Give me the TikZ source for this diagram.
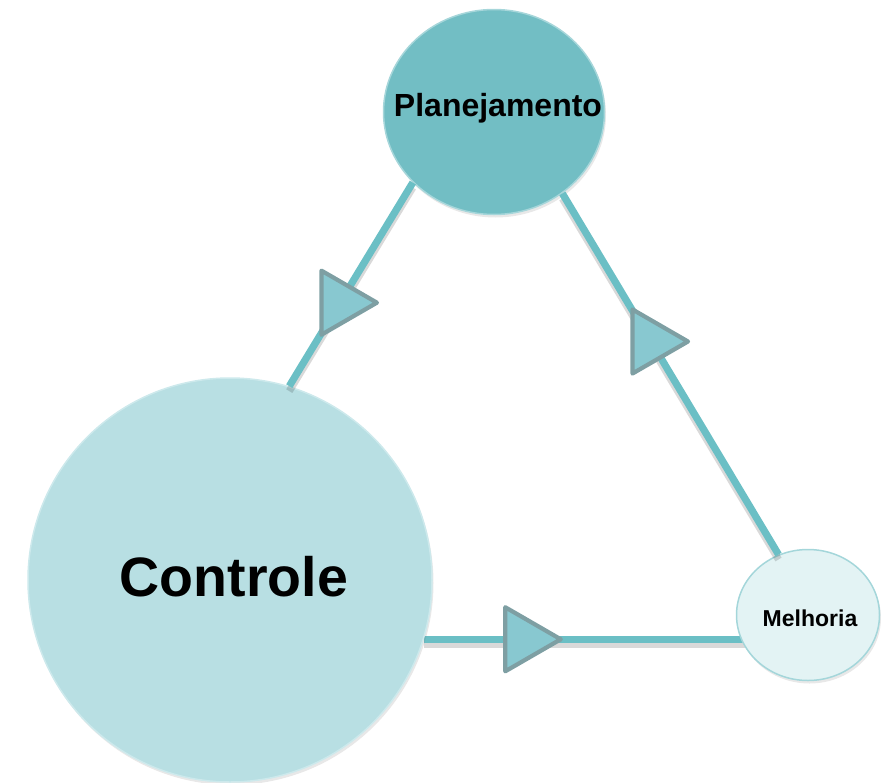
\documentclass[tikz,border=0pt]{standalone}
\usepackage{fontspec}
\setmainfont{Liberation Sans}
\usetikzlibrary{shapes.geometric,shadows,backgrounds}
\definecolor{planfill}{HTML}{72BEC4}
\definecolor{plandraw}{HTML}{A6D6DA}
\definecolor{ctrlfill}{HTML}{B8DFE3}
\definecolor{ctrldraw}{HTML}{CDE9EC}
\definecolor{melfill}{HTML}{E3F3F4}
\definecolor{meldraw}{HTML}{A4D6DA}
\definecolor{linec}{HTML}{6BBFC5}
\definecolor{trifill}{HTML}{88C8D0}
\definecolor{tridraw}{HTML}{7E9FA3}
\begin{document}
\begin{tikzpicture}[x=1pt,y=-1pt,
  bub/.style={ellipse, inner sep=0pt, line width=1.5pt,
    drop shadow={opacity=0.18, shadow xshift=1.5pt, shadow yshift=-3pt}},
  conn/.style={draw=linec, line width=7.2pt,
    preaction={draw=black, draw opacity=0.15, line width=7.2pt,
      transform canvas={yshift=-5pt}}},
  tri/.style={regular polygon, regular polygon sides=3, shape border rotate=-90,
    minimum size=74pt, inner sep=0pt, fill=trifill, draw=tridraw,
    line width=4.2pt, line join=round},
  lbl/.style={font=\bfseries, text=black, inner sep=0pt}]
\useasboundingbox (0,0) rectangle (881,782);
% circles
\node[bub, minimum width=404pt, minimum height=404pt, fill=ctrlfill, draw=ctrldraw] (ctrl) at (230,580) {};
\node[bub, minimum width=221pt, minimum height=205pt, fill=planfill, draw=plandraw] (plan) at (494,112) {};
\node[bub, minimum width=143pt, minimum height=131pt, fill=melfill, draw=meldraw] (mel) at (808,615) {};
% connectors
\draw[conn] (ctrl.73.4) -- (plan.221);
\draw[conn] (plan.310.5) -- (mel.116.6);
\begin{scope}[on background layer]
\draw[conn] (ctrl.-17.8) -- (ctrl.-17.8 -| mel.center);
\end{scope}
% arrow triangles
\path (ctrl.73.4) -- node[tri, pos=0.41] (t1) {} (plan.221);
\path (plan.310.5) -- node[tri, pos=0.41] (t2) {} (mel.116.6);
\path (ctrl.-17.8) -- node[tri, pos=0.26] (t3) {} (ctrl.-17.8 -| mel.center);
% labels
\node[lbl, font=\fontsize{32}{36}\selectfont\bfseries] (planlbl) at (498,108) {Planejamento};
\node[lbl, font=\fontsize{55.5}{62}\selectfont\bfseries] (ctrllbl) at (234,577) {Controle};
\node[lbl, font=\fontsize{23}{26}\selectfont\bfseries] (mellbl) at (810,618) {Melhoria};
\end{tikzpicture}
\end{document}
